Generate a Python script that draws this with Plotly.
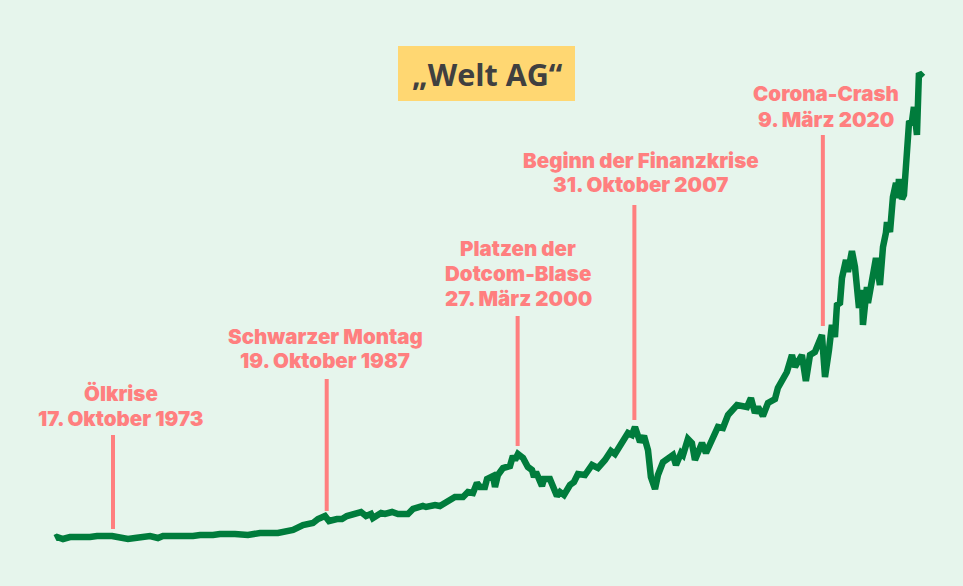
import plotly.graph_objects as go

years = [1970.00,1970.13,1970.52,1970.98,1972.29,1972.75,1973.73,1974.12,1974.77,1975.23,1976.21,1976.73,1977.06,1979.02,1979.48,1980.33,1980.78,1981.76,1982.09,1982.61,1983.40,1984.57,1985.56,1986.21,1986.86,1987.19,1987.65,1987.91,1988.43,1988.76,1989.08,1989.80,
1990.00,1990.33,1990.65,1990.78,1991.31,1991.57,1992.03,1992.42,1993.07,1993.40,1994.05,1994.25,1994.84,1995.16,1995.62,1996.14,1996.67,1996.99,1997.32,1997.58,1997.78,1998.10,1998.24,1998.63,1998.76,1998.95,1999.28,1999.74,1999.93,2000.07,2000.26,2000.59,2000.91,2001.18,2001.31,2001.44,2001.83,2001.96,2002.35,2002.55,2002.81,2003.01,2003.27,2003.66,2003.92,2004.18,2004.64,2005.10,2005.49,2005.95,2006.34,2006.60,2007.06,2007.45,2007.71,2007.91,
2008.24,2008.50,2008.76,2008.95,2009.22,2009.41,2009.74,2010.07,2010.39,2010.59,2010.92,2011.05,2011.37,2011.63,2011.83,2012.29,2012.55,2012.94,2013.33,2013.66,2013.99,2014.58,2015.23,2015.49,2015.75,2015.95,2016.27,2016.60,2017.06,2017.25,2017.84,2018.17,2018.37,2018.82,2019.08,2019.35,2019.67,2020.13,2020.33,2020.59,2020.78,2020.98,2021.11,2021.31,2021.44,2021.70,2021.83,2022.09,2022.29,2022.55,2022.74,2022.81,2023.07,2023.14,2023.46,2023.66,2023.92,2024.12,2024.31,2024.38,2024.58,2024.77,2024.97,2025.10,2025.16,2025.36,2025.49,2025.62,2025.82,2026.01,2026.14,2026.34,2026.47,2026.73]

index_values = [100,110,90,110,110,120,120,110,90,100,120,100,120,120,130,130,140,140,135,130,150,150,180,230,250,290,320,270,290,290,320,350,
360,320,340,300,350,340,360,340,340,390,420,410,430,420,460,510,510,560,550,650,610,610,690,720,610,730,800,820,920,880,940,900,810,780,710,760,620,690,690,610,520,560,530,630,660,740,730,830,800,880,970,940,1050,1150,1130,1210,
1060,1120,980,710,590,730,860,900,930,830,950,930,1090,1050,880,1050,950,1080,1210,1200,1330,1430,1410,1500,1350,1410,1320,1450,1490,1600,1760,1930,1810,1930,1670,1930,1960,2130,1710,1980,2230,2110,2430,2450,2700,2880,2760,2970,2810,2400,2580,2230,2610,2450,2680,2900,2630,3010,3150,3260,3160,3510,3650,3500,3690,3490,3530,3910,4250,4260,4410,4130,4750,4710]

event_years = [1973.79, 1987.76, 2000.24, 2007.87, 2020.19]
event_low = [190, 370, 1020, 1280, 2220]
event_high = [1130, 1690, 2320, 3430, 4130]
event_labels = [["Ölkrise", "17. Oktober 1973"], ["Schwarzer Montag", "19. Oktober 1987"],
                ["Platzen der", "Dotcom-Blase", "27. März 2000"],
                ["Beginn der Finanzkrise", "31. Oktober 2007"], ["Corona-Crash", "9. März 2020"]]
label_cx = [120.5, 325, 518, 641, 826]
label_last_y = [418, 361, 298.5, 185, 119]
title_text = "„Welt AG“"

W, H = 963, 586
PINK = "#ff7f7f"
GREEN = "#007c3c"
BG = "#e6f5ec"

fig = go.Figure()
for ex, lo, hi in zip(event_years, event_low, event_high):
    fig.add_trace(go.Scatter(x=[ex, ex], y=[lo, hi], mode="lines",
                             line=dict(color=PINK, width=4), hoverinfo="skip"))
fig.add_trace(go.Scatter(x=years, y=index_values, mode="lines",
                         line=dict(color=GREEN, width=6.5, shape="linear"), hoverinfo="x+y"))

annots = []
for lines, cx, last in zip(event_labels, label_cx, label_last_y):
    n = len(lines)
    for i, txt in enumerate(lines):
        cy = last - (n - 1 - i) * 25
        annots.append(dict(text=txt, xref="paper", yref="paper", x=cx / W, y=1 - cy / H,
                           xanchor="center", yanchor="middle", showarrow=False,
                           font=dict(family="Inter, sans-serif", size=20.5, color=PINK, weight=900)))
annots.append(dict(text=title_text, xref="paper", yref="paper", x=487 / W, y=1 - 73.5 / H,
                   xanchor="center", yanchor="middle", showarrow=False,
                   font=dict(family="Open Sans, sans-serif", size=30.5, color="#404040", weight=700)))

fig.update_layout(
    width=W, height=H, autosize=False, showlegend=False,
    margin=dict(l=0, r=0, t=0, b=0),
    paper_bgcolor=BG, plot_bgcolor=BG,
    xaxis=dict(visible=False, range=[1966.405, 2029.35], fixedrange=True),
    yaxis=dict(visible=False, range=[-380, 5480], fixedrange=True),
    shapes=[dict(type="rect", xref="paper", yref="paper", layer="below",
                 x0=398 / W, x1=575 / W, y0=1 - 101 / H, y1=1 - 46 / H,
                 fillcolor="#ffd772", line=dict(width=0))],
    annotations=annots,
)
fig.write_html("out.html", config=dict(displayModeBar=False),
               post_script="document.body.style.margin='0';document.body.style.background='#e6f5ec';")
